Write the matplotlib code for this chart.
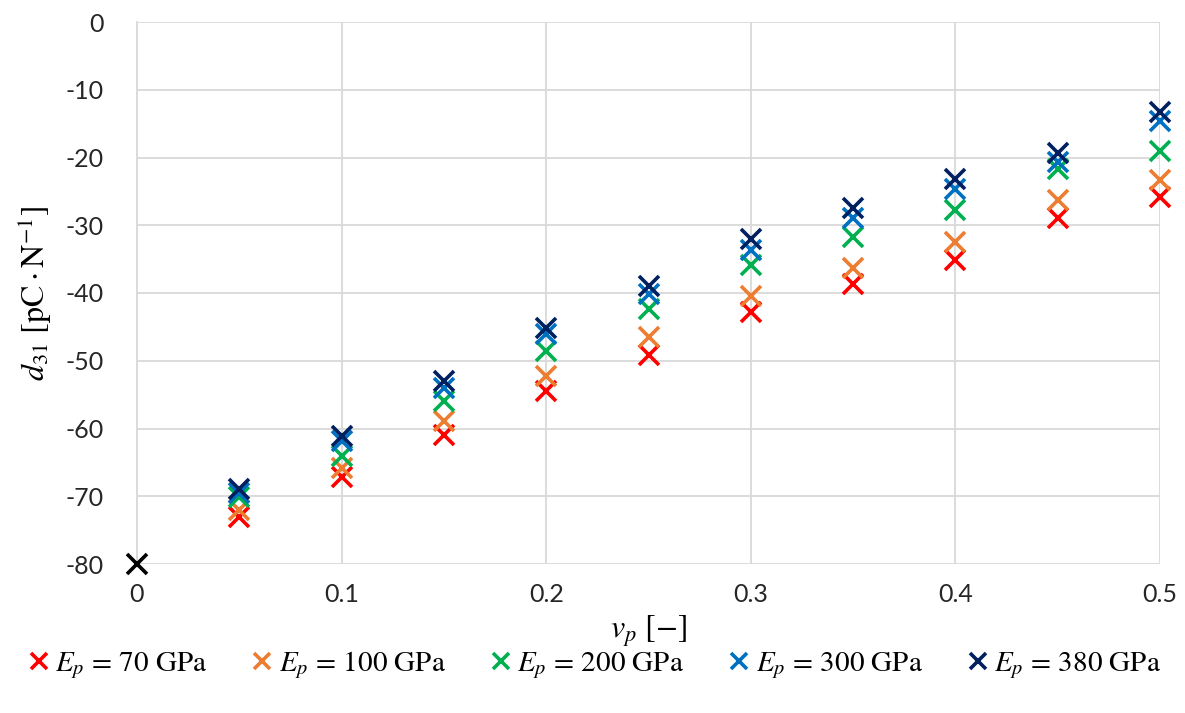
import matplotlib
matplotlib.use("Agg")
import matplotlib.pyplot as plt
from matplotlib.ticker import FuncFormatter

plt.rcParams['mathtext.fontset'] = 'stix'
plt.rcParams['font.family'] = ['Lato', 'DejaVu Sans']

nu = [0.05, 0.10, 0.15, 0.20, 0.25, 0.30, 0.35, 0.40, 0.45, 0.50]
d31_70 = [-73.0, -67.1, -60.9, -54.5, -49.1, -42.8, -38.7, -35.2, -28.9, -25.9]
d31_100 = [-72.0, -65.8, -58.9, -52.3, -46.5, -40.4, -36.3, -32.5, -26.2, -23.3]
d31_200 = [-70.1, -64.1, -56.0, -48.6, -42.4, -35.8, -31.7, -27.7, -21.7, -19.1]
d31_300 = [-69.5, -61.9, -54.0, -46.1, -40.2, -33.6, -28.9, -24.7, -20.7, -14.6]
d31_380 = [-68.9, -61.1, -53.0, -45.1, -38.9, -32.1, -27.4, -23.1, -19.4, -13.3]
origin_x = [0.0]
origin_y = [-80.0]

series = [
    (d31_70, '#FF0000', r'$E_p$ = 70 GPa'),
    (d31_100, '#ED7D31', r'$E_p$ = 100 GPa'),
    (d31_200, '#00B050', r'$E_p$ = 200 GPa'),
    (d31_300, '#0070C0', r'$E_p$ = 300 GPa'),
    (d31_380, '#002060', r'$E_p$ = 380 GPa'),
]

fig = plt.figure(figsize=(11.85, 7.13), dpi=100)
ax = fig.add_axes([137/1185, 1 - 564/713, (1160-137)/1185, (564-22)/713])

for vals, col, lab in series:
    ax.plot(nu, vals, linestyle='none', marker='x', markersize=14,
            markeredgewidth=2.6, color=col, label=lab, clip_on=False, zorder=3)
ax.plot(origin_x, origin_y, linestyle='none', marker='x', markersize=14,
        markeredgewidth=2.6, color='black', clip_on=False, zorder=3)

ax.set_xlim(0, 0.5)
ax.set_ylim(-80, 0)
ax.set_xticks([0, 0.1, 0.2, 0.3, 0.4, 0.5])
ax.set_yticks(range(-80, 1, 10))
ax.xaxis.set_major_formatter(FuncFormatter(lambda v, p: '0' if abs(v) < 1e-9 else f'{v:g}'))
ax.yaxis.set_major_formatter(FuncFormatter(lambda v, p: f'{int(v)}'.replace('\u2212', '-')))
ax.grid(True, color='#D9D9D9', linewidth=1.3, zorder=0)
ax.set_axisbelow(True)
for s in ['top', 'right', 'bottom']:
    ax.spines[s].set_visible(False)
ax.spines['left'].set_color('#D9D9D9')
ax.spines['left'].set_linewidth(1.3)
ax.tick_params(axis='both', length=0, labelsize=18, colors='#262626')
ax.tick_params(axis='y', pad=24)
ax.tick_params(axis='x', pad=14)

ax.set_xlabel(r'$v_p\ [-]$', fontsize=23, labelpad=5)
ax.set_ylabel(r'$d_{31}\ [\mathrm{pC}\cdot\mathrm{N}^{-1}]$', fontsize=23, labelpad=8)

leg = fig.legend(loc='center', bbox_to_anchor=(0.5, 1 - 665/713), ncol=5,
                 frameon=False, handletextpad=0.05, columnspacing=1.4,
                 markerscale=0.85, handlelength=1.0,
                 prop={'family': 'STIXGeneral', 'size': 21})

fig.savefig('out.png', dpi=100)
